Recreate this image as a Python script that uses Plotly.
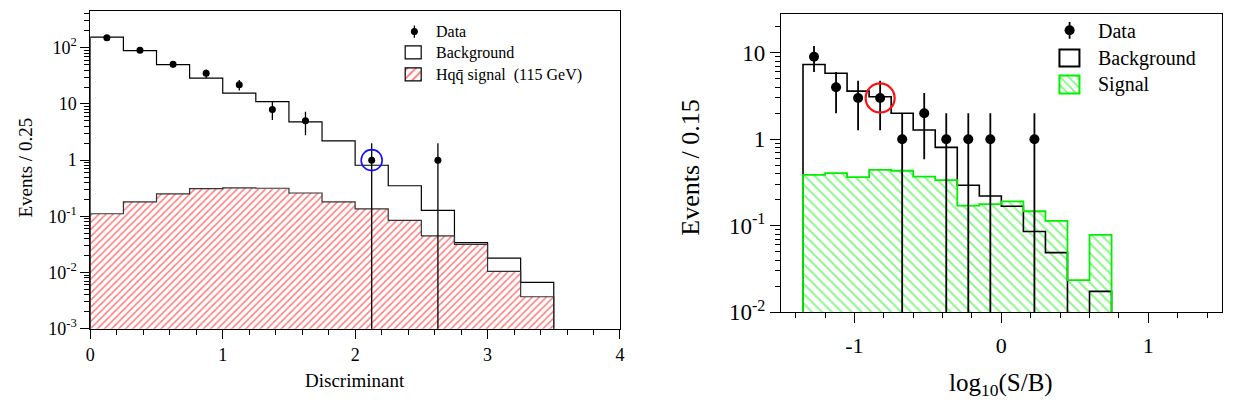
import numpy as np
import plotly.graph_objects as go

# ---------------- left panel: discriminant ----------------
disc_edges = [0.0, 0.25, 0.5, 0.75, 1.0, 1.25, 1.5, 1.75, 2.0, 2.25, 2.5, 2.75, 3.0, 3.25, 3.5]
disc_data = [150, 90, 51, 35, 22, 8, 5, 0, 1, 0, 1, 0, 0, 0]
disc_background = [155, 89, 50, 28.7, 15.6, 11.0, 4.8, 2.2, 0.81, 0.35, 0.128, 0.034, 0.018, 0.0067]
disc_signal = [0.111, 0.18, 0.25, 0.31, 0.32, 0.316, 0.26, 0.18, 0.136, 0.085, 0.045, 0.0316, 0.0105, 0.0037]
disc_marked_bin = 8

# ---------------- right panel: log10(S/B) ----------------
lsb_edges = [-1.35, -1.2, -1.05, -0.9, -0.75, -0.6, -0.45, -0.3, -0.15, 0.0, 0.15, 0.3, 0.45, 0.6, 0.75]
lsb_data = [9, 4, 3, 3, 1, 2, 1, 1, 1, 0, 1, 0, 0, 0]
lsb_background = [7.3, 5.8, 3.6, 3.1, 2.0, 1.28, 0.805, 0.294, 0.221, 0.168, 0.0857, 0.0489, 0.0, 0.0174]
lsb_signal = [0.387, 0.405, 0.365, 0.443, 0.432, 0.37, 0.337, 0.171, 0.178, 0.191, 0.147, 0.114, 0.0235, 0.0785]
lsb_marked_bin = 3

# tick labels
left_xtick_vals = [0, 1, 2, 3, 4]
left_xtick_text = ["0", "1", "2", "3", "4"]
left_ytick_vals = [1e-3, 1e-2, 1e-1, 1, 10, 100]
left_ytick_text = ["10<sup>-3</sup>", "10<sup>-2</sup>", "10<sup>-1</sup>", "1", "10", "10<sup>2</sup>"]
right_xtick_vals = [-1, 0, 1]
right_xtick_text = ["-1", "0", "1"]
right_ytick_vals = [1e-2, 1e-1, 1, 10]
right_ytick_text = ["10<sup>-2</sup>", "10<sup>-1</sup>", "1", "10"]

legend_left = ["Data", "Background", "Hqq\u0304 signal  (115 GeV)"]
legend_right = ["Data", "Background", "Signal"]

W, H = 1233, 416
FONT = "Liberation Serif"
FLOOR = 1e-6
RED = "#ff0000"
GREEN = "#00f000"


def px(x):
    return x / W


def py(y):
    return 1 - y / H


def step_outline(edges, vals):
    """Histogram outline: up from the floor, across each bin, back down."""
    xs, ys = [edges[0]], [FLOOR]
    for i, v in enumerate(vals):
        v = v if v > 0 else FLOOR
        xs += [edges[i], edges[i + 1]]
        ys += [v, v]
    xs.append(edges[-1])
    ys.append(FLOOR)
    return xs, ys


def centers_widths(edges):
    e = np.asarray(edges, dtype=float)
    return (e[:-1] + e[1:]) / 2, np.diff(e)


def log_minor(lo, hi):
    return [m * 10.0 ** k for k in range(lo, hi + 1) for m in range(2, 10)]


fig = go.Figure()


def add_panel(edges, data, bkg, sig, marked, xa, ya, hatch, hatch_color, hatch_size, hatch_solid,
              sig_line_color, sig_line_w, bkg_w, mk_size, err_w, circ_color, circ_size, circ_w):
    c, w = centers_widths(edges)
    # hatched signal fill
    fig.add_trace(go.Bar(
        x=c, y=sig, width=w, xaxis=xa, yaxis=ya,
        marker=dict(color="rgba(0,0,0,0)", line=dict(width=0),
                    pattern=dict(shape=hatch, fgcolor=hatch_color, bgcolor="rgba(0,0,0,0)",
                                 size=hatch_size, solidity=hatch_solid)),
        hoverinfo="skip"))
    # background outline
    bx, by = step_outline(edges, bkg)
    fig.add_trace(go.Scatter(x=bx, y=by, mode="lines", xaxis=xa, yaxis=ya,
                             line=dict(color="black", width=bkg_w), hoverinfo="skip"))
    # signal outline
    sx, sy = step_outline(edges, sig)
    fig.add_trace(go.Scatter(x=sx, y=sy, mode="lines", xaxis=xa, yaxis=ya,
                             line=dict(color=sig_line_color, width=sig_line_w), hoverinfo="skip"))
    # data points with Poisson errors
    d = np.asarray(data, dtype=float)
    m = d > 0
    fig.add_trace(go.Scatter(
        x=c[m], y=d[m], mode="markers", xaxis=xa, yaxis=ya,
        marker=dict(color="black", size=mk_size),
        error_y=dict(type="data", array=np.sqrt(d[m]), color="black", thickness=err_w, width=0),
        hoverinfo="skip"))
    # highlighted event
    fig.add_trace(go.Scatter(
        x=[c[marked]], y=[d[marked]], mode="markers", xaxis=xa, yaxis=ya,
        marker=dict(symbol="circle-open", size=circ_size, color=circ_color, line=dict(width=circ_w)),
        hoverinfo="skip"))


add_panel(disc_edges, disc_data, disc_background, disc_signal, disc_marked_bin,
          "x", "y", "/", RED, 5, 0.32, "#333333", 1.2, 1.2, 7, 1.3, "#1010ff", 21, 1.6)
add_panel(lsb_edges, lsb_data, lsb_background, lsb_signal, lsb_marked_bin,
          "x2", "y2", "\\", GREEN, 7, 0.26, GREEN, 1.8, 1.6, 10, 1.8, "#ff1010", 29, 2.2)

# ---------------- legend swatches (inset axes in pixel units) ----------------
# left legend
fig.add_trace(go.Scatter(x=[412.7], y=[-32.6], mode="markers", xaxis="x3", yaxis="y3",
                         marker=dict(color="black", size=7),
                         error_y=dict(type="constant", value=6.3, color="black", thickness=1.3, width=0),
                         hoverinfo="skip"))
fig.add_trace(go.Bar(x=[412.0], y=[13.4], base=[-61.7], width=[16], xaxis="x3", yaxis="y3",
                     marker=dict(color="white", line=dict(color="black", width=1.2)), hoverinfo="skip"))
fig.add_trace(go.Bar(x=[412.0], y=[13.3], base=[-84.3], width=[16], xaxis="x3", yaxis="y3",
                     marker=dict(color="rgba(0,0,0,0)", line=dict(color="black", width=1.2),
                                 pattern=dict(shape="/", fgcolor=RED, bgcolor="rgba(0,0,0,0)",
                                              size=6, solidity=0.32)),
                     hoverinfo="skip"))
# right legend
fig.add_trace(go.Scatter(x=[1073.3], y=[-31.3], mode="markers", xaxis="x4", yaxis="y4",
                         marker=dict(color="black", size=10),
                         error_y=dict(type="constant", value=8.7, color="black", thickness=1.8, width=0),
                         hoverinfo="skip"))
fig.add_trace(go.Bar(x=[1073.3], y=[17.6], base=[-68.3], width=[20], xaxis="x4", yaxis="y4",
                     marker=dict(color="white", line=dict(color="black", width=2)), hoverinfo="skip"))
fig.add_trace(go.Bar(x=[1073.3], y=[18.4], base=[-96.7], width=[20], xaxis="x4", yaxis="y4",
                     marker=dict(color="rgba(0,0,0,0)", line=dict(color=GREEN, width=2),
                                 pattern=dict(shape="\\", fgcolor=GREEN, bgcolor="rgba(0,0,0,0)",
                                              size=6, solidity=0.3)),
                     hoverinfo="skip"))

ax_common = dict(showgrid=False, zeroline=False, showline=True, linecolor="black",
                 linewidth=1, mirror=True, ticks="outside", tickcolor="black")

fig.update_layout(
    width=W, height=H, margin=dict(l=0, r=0, t=0, b=0),
    paper_bgcolor="white", plot_bgcolor="white", showlegend=False,
    barmode="overlay", bargap=0,
    font=dict(family=FONT, color="black"),
    xaxis=dict(domain=[px(86), px(620)], range=[0, 4], anchor="y",
               tickmode="array", tickvals=left_xtick_vals, ticktext=left_xtick_text,
               ticklen=9, tickwidth=1, ticklabelstandoff=1,
               minor=dict(dtick=0.2, tick0=0, ticks="outside", ticklen=5, tickcolor="black"),
               tickfont=dict(size=18, family=FONT), **ax_common),
    yaxis=dict(domain=[py(339.3), py(11)], type="log", range=[-3, 2.66], anchor="x",
               tickmode="array", tickvals=left_ytick_vals, ticktext=left_ytick_text,
               ticklen=9, tickwidth=1,
               minor=dict(tickmode="array", tickvals=log_minor(-3, 2), ticks="outside",
                          ticklen=5, tickcolor="black"),
               tickfont=dict(size=18, family=FONT), **ax_common),
    xaxis2=dict(domain=[px(782.3), px(1226.7)], range=[-1.5, 1.5], anchor="y2",
                tickmode="array", tickvals=right_xtick_vals, ticktext=right_xtick_text,
                ticklen=10, tickwidth=1, ticklabelstandoff=3,
                minor=dict(dtick=0.2, tick0=0, ticks="outside", ticklen=5, tickcolor="black"),
                tickfont=dict(size=22, family=FONT), **ax_common),
    yaxis2=dict(domain=[py(322.3), py(14)], type="log", range=[-2, 1.453], anchor="x2",
                tickmode="array", tickvals=right_ytick_vals, ticktext=right_ytick_text,
                ticklen=10, tickwidth=1,
                minor=dict(tickmode="array", tickvals=log_minor(-2, 1), ticks="outside",
                           ticklen=5, tickcolor="black"),
                tickfont=dict(size=23, family=FONT), **ax_common),
    xaxis3=dict(domain=[px(395), px(430)], range=[395, 430], anchor="y3", visible=False, fixedrange=True),
    yaxis3=dict(domain=[py(95), py(20)], range=[-95, -20], anchor="x3", visible=False, fixedrange=True),
    xaxis4=dict(domain=[px(1055), px(1092)], range=[1055, 1092], anchor="y4", visible=False, fixedrange=True),
    yaxis4=dict(domain=[py(100), py(18)], range=[-100, -18], anchor="x4", visible=False, fixedrange=True),
)

ann = []
# axis titles
ann.append(dict(text="Events / 0.25", x=px(20.7), y=py(173.5), textangle=-90, font=dict(size=19)))
ann.append(dict(text="Discriminant", x=px(352.8), y=py(393), font=dict(size=19)))
ann.append(dict(text="Events / 0.15", x=px(691.7), y=py(173), textangle=-90, font=dict(size=26)))
ann.append(dict(text="log<sub>10</sub>(S/B)", x=px(1004), y=py(397), font=dict(size=25)))
# legend labels
for label, yy in zip(legend_left, [32.3, 55.0, 77.7]):
    ann.append(dict(text=label, x=px(433), y=py(yy), xanchor="left", font=dict(size=16)))
for label, yy in zip(legend_right, [32.0, 60.0, 87.0]):
    ann.append(dict(text=label, x=px(1100), y=py(yy), xanchor="left", font=dict(size=20)))

for a in ann:
    a.setdefault("xanchor", "center")
    a.update(xref="paper", yref="paper", yanchor="middle", showarrow=False)
    a["font"] = dict(family=FONT, color="black", **a["font"])
fig.update_layout(annotations=ann)

fig.write_html("out.html")
